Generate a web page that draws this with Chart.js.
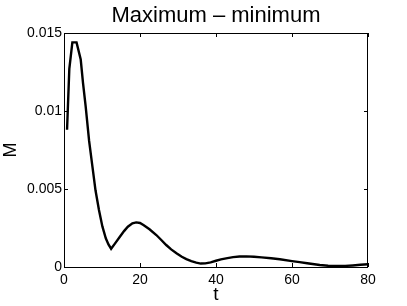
<!DOCTYPE html>
<html>
<head>
<meta charset="utf-8">
<script src="https://cdn.jsdelivr.net/npm/chart.js@4/dist/chart.umd.min.js"></script>
<style>
  html, body { margin: 0; padding: 0; background: #fff; }
  #wrap { width: 407px; height: 306px; }
</style>
</head>
<body>
<div id="wrap"><canvas id="chart" width="407" height="306"></canvas></div>
<script>
(function() {
  'use strict';

  // values (t, max - min)
  var T = [0.8, 1.4, 2.2, 3.3, 4.4, 5.0, 5.7, 6.6, 7.5, 8.3, 9.2, 10.1, 11.0, 11.7, 12.4,
           13.4, 14.7, 15.8, 16.8, 18.0, 19.0, 20.0, 21.0, 22.5, 24.3, 25.6, 26.9, 28.2,
           29.6, 31.0, 32.2, 33.5, 34.8, 36.0, 37.2, 38.6, 40.0, 41.3, 43.0, 44.5, 46.2,
           48.0, 50.0, 52.0, 54.5, 56.8, 60.0, 62.0, 64.0, 67.3, 69.5, 71.7, 74.0, 76.0,
           78.0, 80.0];
  var M = [0.0088, 0.0127, 0.0144, 0.0144, 0.0133, 0.0118, 0.0103, 0.0081, 0.0064, 0.0049,
           0.00365, 0.0026, 0.00184, 0.00145, 0.00117,
           0.0015, 0.00194, 0.0023, 0.00258, 0.0028, 0.00286, 0.00282, 0.00268, 0.00242,
           0.00205, 0.00173, 0.00141, 0.00113,
           0.00088, 0.00066, 0.00051, 0.00038, 0.00028, 0.00022, 0.00023, 0.0003, 0.0004,
           0.00049, 0.00057, 0.00063, 0.00067,
           0.00068, 0.00066, 0.00062, 0.00056, 0.0005, 0.00038, 0.00031, 0.00024, 0.00013,
           0.00008, 0.00006, 0.00007, 0.0001,
           0.00014, 0.00018];
  var X_TICKS = [0, 20, 40, 60, 80];
  var Y_TICKS = [0, 0.005, 0.01, 0.015];
  var TITLE = 'Maximum \u2013 minimum';

  var FONT = '"Liberation Sans", Arial, Helvetica, sans-serif';

  var points = T.map(function(t, i) { return { x: t, y: M[i] }; });

  var framePlugin = {
    id: 'frame',
    afterDraw: function(chart) {
      var ctx = chart.ctx;
      var a = chart.chartArea;
      var xs = chart.scales.x;
      var ys = chart.scales.y;
      var len = 4;
      ctx.save();
      ctx.strokeStyle = '#000';
      ctx.lineWidth = 1;
      ctx.strokeRect(a.left + 0.5, a.top + 0.5, a.right - a.left - 1, a.bottom - a.top);
      ctx.beginPath();
      X_TICKS.forEach(function(v) {
        var px = Math.round(xs.getPixelForValue(v)) + 0.5;
        ctx.moveTo(px, a.bottom); ctx.lineTo(px, a.bottom - len);
        ctx.moveTo(px, a.top); ctx.lineTo(px, a.top + len);
      });
      Y_TICKS.forEach(function(v) {
        var py = Math.round(ys.getPixelForValue(v)) + 0.5;
        ctx.moveTo(a.left, py); ctx.lineTo(a.left + len, py);
        ctx.moveTo(a.right, py); ctx.lineTo(a.right - len, py);
      });
      ctx.stroke();
      // title centred over the plot box
      ctx.fillStyle = '#000';
      ctx.font = '22px ' + FONT;
      ctx.textAlign = 'center';
      ctx.textBaseline = 'alphabetic';
      ctx.fillText(TITLE, (a.left + a.right) / 2, 22);
      ctx.restore();
    }
  };

  new Chart(document.getElementById('chart'), {
    type: 'scatter',
    data: {
      datasets: [{
        data: points,
        showLine: true,
        borderColor: '#000',
        borderWidth: 2.4,
        pointRadius: 0,
        tension: 0,
        fill: false
      }]
    },
    options: {
      responsive: false,
      animation: false,
      layout: { padding: { top: 33, right: 39, left: 0, bottom: 0 } },
      plugins: {
        legend: { display: false },
        tooltip: { enabled: false }
      },
      scales: {
        x: {
          type: 'linear',
          min: 0,
          max: 80,
          afterFit: function(s) { s.height = 39; },
          afterBuildTicks: function(s) { s.ticks = X_TICKS.map(function(v) { return { value: v }; }); },
          grid: { display: false, drawTicks: false },
          border: { display: false },
          ticks: { color: '#000', font: { family: FONT, size: 14 }, padding: 5, maxRotation: 0 },
          title: { display: true, text: 't', color: '#000', font: { family: FONT, size: 19 }, padding: { top: 0, bottom: 0 } }
        },
        y: {
          type: 'linear',
          min: 0,
          max: 0.015,
          afterFit: function(s) { s.width = 64; },
          afterBuildTicks: function(s) { s.ticks = Y_TICKS.map(function(v) { return { value: v }; }); },
          grid: { display: false, drawTicks: false },
          border: { display: false },
          ticks: {
            color: '#000',
            font: { family: FONT, size: 14 },
            padding: 2,
            callback: function(v) { return String(parseFloat(v.toFixed(3))); }
          },
          title: { display: true, text: 'M', color: '#000', font: { family: FONT, size: 18 }, padding: { top: 0, bottom: 0 } }
        }
      }
    },
    plugins: [framePlugin]
  });
})();
</script>
</body>
</html>
